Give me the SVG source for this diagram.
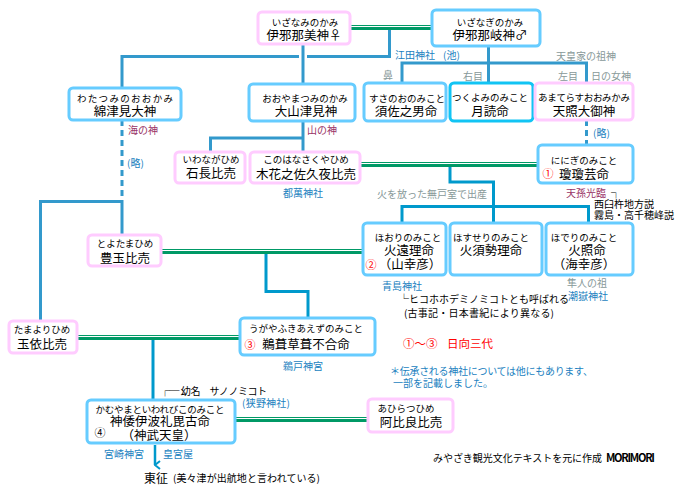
<svg xmlns="http://www.w3.org/2000/svg" width="683" height="500" viewBox="0 0 683 500">
<style>
text{font-family:"Noto Sans CJK JP","Noto Sans",sans-serif;dominant-baseline:central;fill:#000}
.nb{fill:#fff;stroke:#66ccff;stroke-width:3}
.np{fill:#fff;stroke:#ffccff;stroke-width:3}
.nc{fill:#fff;stroke:#11c4f4;stroke-width:3}
.k{font-size:9.5px;text-anchor:middle}
.n{font-size:12.5px;text-anchor:middle}
.l{font-size:10px}
.lb{fill:#1a7fc0}
.lp{fill:#993366}
.lg{fill:#889999}
.red{fill:#ff0000}
.c1{stroke:#3399cc;stroke-width:3;fill:none}
.c2{stroke:#0099cc;stroke-width:3;fill:none}
.d{stroke-dasharray:6 4}
.g1{stroke:#009966;stroke-width:1}
.g3{stroke:#009966;stroke-width:3}
</style>
<defs>
<marker id="ar" markerWidth="10" markerHeight="8" refX="5" refY="7" orient="auto" markerUnits="userSpaceOnUse">
<polyline points="1,2 5,7 9,2" fill="none" stroke="#0099cc" stroke-width="2"/>
</marker>
</defs>
<rect width="683" height="500" fill="#fff"/>

<g id="connectors">
<line class="g1" x1="350" y1="25.5" x2="432" y2="25.5"/>
<line class="g3" x1="350" y1="28.5" x2="432" y2="28.5"/>
<path class="c1" d="M122,88 V56.5 H299"/>
<path class="c1" d="M307,56.5 H389.5 V30"/>
<line class="c1" x1="303" y1="44" x2="303" y2="84"/>
<path class="c1" d="M303,122 V152"/>
<path class="c1" d="M303,138 H210.5 V152"/>
<line class="c1" x1="488.5" y1="46" x2="488.5" y2="83"/>
<path class="c1" d="M402,83 V63 H586.5 V83"/>
<line class="c1 d" x1="586.5" y1="120" x2="586.5" y2="145"/>
<line class="c1 d" x1="122" y1="120" x2="122" y2="200"/>
<path class="c1" d="M122,200 V235"/>
<path class="c1" d="M122,201.5 H40.5 V321"/>
<line class="g1" x1="360" y1="162.5" x2="538" y2="162.5"/>
<line class="g3" x1="360" y1="165.5" x2="538" y2="165.5"/>
<path class="c2" d="M450,167 V182 H493.5 V223"/>
<path class="c2" d="M402,223 V206.5 H588.5 V223"/>
<line class="g1" x1="161" y1="249.5" x2="363" y2="249.5"/>
<line class="g3" x1="161" y1="252.5" x2="363" y2="252.5"/>
<path class="c2" d="M266,254 V291.5 H308 V318"/>
<line class="g1" x1="77" y1="335.5" x2="240" y2="335.5"/>
<line class="g3" x1="77" y1="338.5" x2="240" y2="338.5"/>
<line class="c2" x1="153" y1="340" x2="153" y2="400"/>
<line class="g1" x1="235" y1="417.5" x2="368" y2="417.5"/>
<line class="g3" x1="235" y1="420.5" x2="368" y2="420.5"/>
<line x1="155" y1="445" x2="155" y2="465" stroke="#0099cc" stroke-width="2.5" marker-end="url(#ar)"/>
</g>

<g id="izanami">
<rect class="np" x="258" y="12" width="92" height="32" rx="4"/>
<text class="k" x="305" y="21.5">いざなみのかみ</text>
<text class="n" x="304" y="34">伊邪那美神♀</text>
</g>
<g id="izanagi">
<rect class="nb" x="432" y="10" width="108" height="36" rx="4"/>
<text class="k" x="490" y="21.5">いざなぎのかみ</text>
<text class="n" x="490" y="34">伊邪那岐神♂</text>
</g>
<g id="watatsumi">
<rect class="nb" x="69" y="88" width="112" height="32" rx="4"/>
<text class="k" x="125" y="97.5" textLength="96">わたつみのおおかみ</text>
<text class="n" x="125" y="110.5">綿津見大神</text>
</g>
<g id="ooyamatsumi">
<rect class="nb" x="249" y="84" width="106" height="37" rx="4"/>
<text class="k" x="305" y="97.5">おおやまつみのかみ</text>
<text class="n" x="306" y="110.5">大山津見神</text>
</g>
<g id="susanoo">
<rect class="nb" x="364" y="83" width="82" height="38" rx="4"/>
<text class="k" x="407" y="97.5">すさのおのみこと</text>
<text class="n" x="406" y="110.5">須佐之男命</text>
</g>
<g id="tsukuyomi">
<rect class="nc" x="450" y="83" width="83" height="38" rx="4"/>
<text class="k" x="490" y="96.5">つくよみのみこと</text>
<text class="n" x="490" y="110.5">月読命</text>
</g>
<g id="amaterasu">
<rect class="np" x="535" y="83" width="98" height="37" rx="4"/>
<text class="k" x="584" y="96.5" textLength="92">あまてらすおおみかみ</text>
<text class="n" x="584" y="110.5">天照大御神</text>
</g>
<g id="iwanaga">
<rect class="np" x="175" y="152" width="70" height="31" rx="4"/>
<text class="k" x="211" y="158.5">いわながひめ</text>
<text class="n" x="211" y="172.5">石長比売</text>
</g>
<g id="konohana">
<rect class="np" x="250" y="152" width="110" height="31" rx="4"/>
<text class="k" x="306" y="158.5">このはなさくやひめ</text>
<text class="n" x="306" y="173">木花之佐久夜比売</text>
</g>
<g id="ninigi">
<rect class="nb" x="538" y="145" width="95" height="38" rx="4"/>
<text class="k" x="584" y="159.5">ににぎのみこと</text>
<text class="red" x="548" y="173" font-size="11" text-anchor="middle">①</text>
<text class="n" x="584" y="173">瓊瓊芸命</text>
</g>
<g id="hoori">
<rect class="nb" x="363" y="223" width="83" height="52" rx="4"/>
<text class="k" x="408" y="236.5">ほおりのみこと</text>
<text class="n" x="409" y="249.5">火遠理命</text>
<text class="red" x="371" y="263.5" font-size="11" text-anchor="middle">②</text>
<text class="n" x="410" y="263.5">（山幸彦）</text>
</g>
<g id="hosuseri">
<rect class="nb" x="450" y="223" width="92" height="52" rx="4"/>
<text class="k" x="491" y="236.5">ほすせりのみこと</text>
<text class="n" x="491" y="249.5">火須勢理命</text>
</g>
<g id="hoderi">
<rect class="nb" x="546" y="223" width="87" height="52" rx="4"/>
<text class="k" x="584" y="236.5">ほでりのみこと</text>
<text class="n" x="587" y="249.5">火照命</text>
<text class="n" x="584" y="263.5">（海幸彦）</text>
</g>
<g id="toyotama">
<rect class="np" x="88" y="235" width="73" height="31" rx="4"/>
<text class="k" x="125" y="242.5">とよたまひめ</text>
<text class="n" x="125" y="257">豊玉比売</text>
</g>
<g id="tamayori">
<rect class="np" x="9" y="321" width="68" height="32" rx="4"/>
<text class="k" x="42" y="328.5">たまよりひめ</text>
<text class="n" x="42" y="343">玉依比売</text>
</g>
<g id="ugaya">
<rect class="nb" x="240" y="318" width="135" height="37" rx="4"/>
<text class="k" x="306" y="327.5">うがやふきあえずのみこと</text>
<text class="red" x="250" y="343.5" font-size="11" text-anchor="middle">③</text>
<text class="n" x="306" y="343.5">鵜葺草葺不合命</text>
</g>
<g id="jinmu">
<rect class="nb" x="87" y="400" width="148" height="43" rx="4"/>
<text class="k" x="160" y="408.5" textLength="129">かむやまといわれびこのみこと</text>
<text class="n" x="160" y="420.5">神倭伊波礼毘古命</text>
<text x="100" y="431.5" font-size="11" text-anchor="middle" fill="#3333ff">④</text>
<text class="n" x="159" y="434">（神武天皇）</text>
</g>
<g id="ahira">
<rect class="np" x="368" y="399" width="85" height="33" rx="4"/>
<text class="k" x="406" y="408">あひらつひめ</text>
<text class="n" x="411" y="421.5">阿比良比売</text>
</g>

<g id="labels">
<text class="l lb" x="395" y="54">江田神社</text>
<text class="l lb" x="443" y="54">(池)</text>
<text class="l lg" x="556" y="55">天皇家の祖神</text>
<text class="l lg" x="388" y="74" text-anchor="middle">鼻</text>
<text class="l lg" x="463" y="75.5">右目</text>
<text class="l lg" x="558" y="75.5">左目</text>
<text class="l lg" x="591" y="75.5">日の女神</text>
<text class="l lp" x="128" y="129">海の神</text>
<text class="l lp" x="307" y="129">山の神</text>
<text class="l lb" x="127" y="162">(略)</text>
<text class="l lb" x="593" y="132">(略)</text>
<text class="l lb" x="303" y="192" text-anchor="middle">都萬神社</text>
<text class="l lg" x="377" y="193">火を放った無戸室で出産</text>
<text class="l lp" x="566" y="192">天孫光臨</text>
<text class="l" x="611" y="192">┐</text>
<text class="l" x="594" y="203">西臼杵地方説</text>
<text class="l" x="594" y="214.5">霧島・高千穂峰説</text>
<text class="l lb" x="402" y="285" text-anchor="middle">青島神社</text>
<text class="l" x="399" y="298">└ヒコホホデミノミコトとも呼ばれる</text>
<text class="l" x="404" y="312" textLength="150">(古事記・日本書紀により異なる)</text>
<text class="l lg" x="587" y="282" text-anchor="middle">隼人の祖</text>
<text class="l lb" x="588" y="295" text-anchor="middle">潮嶽神社</text>
<text class="l lb" x="303" y="365" text-anchor="middle">鵜戸神宮</text>
<text x="403" y="343" font-size="11.5" class="red">①〜③</text>
<text x="447" y="343" font-size="11.5" class="red">日向三代</text>
<text class="l lb" x="390" y="370" textLength="203">＊伝承される神社については他にもあります、</text>
<text class="l lb" x="393" y="382">一部を記載しました。</text>
<text class="l" x="160" y="390" textLength="107">┌─ 幼名　サノノミコト</text>
<text class="l lb" x="242" y="402" textLength="48">(狭野神社)</text>
<text class="l lb" x="104" y="453">宮崎神宮</text>
<text class="l lb" x="163" y="453">皇宮屋</text>
<text x="144" y="477" font-size="12">東征</text>
<text class="l" x="173" y="477" fill="#665599" textLength="147">(美々津が出航地と言われている)</text>
<text class="l" x="433" y="457" fill="#665588" textLength="169">みやざき観光文化テキストを元に作成</text>
<text x="606" y="457" font-family="Liberation Sans" font-weight="bold" font-size="11" fill="#665588" textLength="49">MORIMORI</text>
</g>
</svg>
